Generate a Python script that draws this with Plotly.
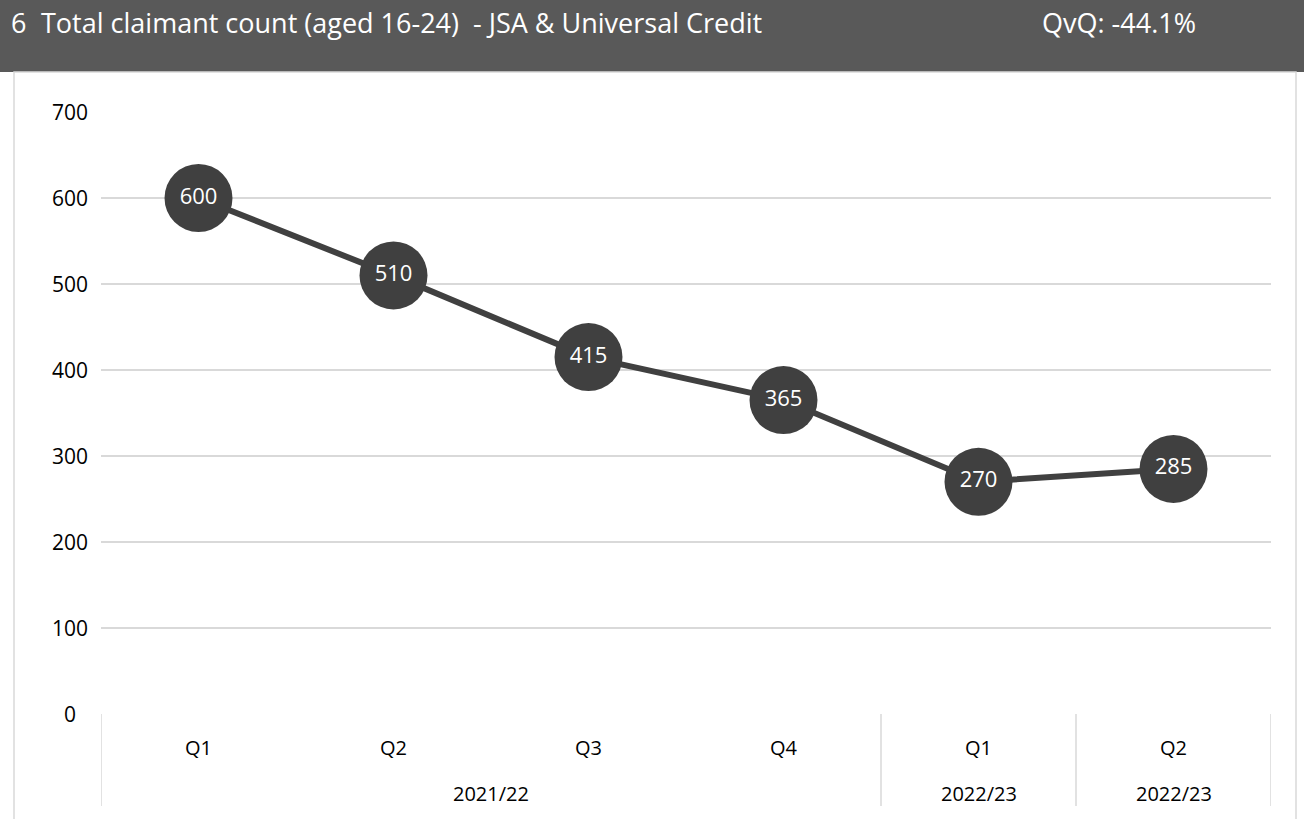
import plotly.graph_objects as go

quarters = ["Q1", "Q2", "Q3", "Q4", "Q1", "Q2"]
years = ["2021/22", "2022/23", "2022/23"]
year_spans = [(0, 3), (4, 4), (5, 5)]
values = [600, 510, 415, 365, 270, 285]
y_ticks = [0, 100, 200, 300, 400, 500, 600, 700]
title_num = "6"
title_text = "Total claimant count (aged 16-24)  - JSA &amp; Universal Credit"
qvq_text = "QvQ: -44.1%"

FONT = "Open Sans"
DARK = "#404040"
GRID = "#d9d9d9"

W, H = 1304, 819
PL, PR, PT, PB = 101, 1271, 112, 714          # plot area in page coords
L, R, T, B = PL, W - PR, PT, H - PB


def px(xp):
    return (xp - PL) / (PR - PL)


def py(yp):
    return (PB - yp) / (PB - PT)


x_idx = list(range(len(quarters)))

fig = go.Figure()
fig.add_trace(go.Scatter(
    x=x_idx, y=values, mode="lines+markers+text",
    line=dict(color=DARK, width=6),
    marker=dict(size=68, color=DARK),
    text=[str(v) for v in values], textposition="middle center",
    textfont=dict(color="white", size=22, family=FONT),
    hoverinfo="skip", showlegend=False, cliponaxis=False,
))

HY1 = 72
shapes = [
    dict(type="rect", xref="paper", yref="paper",
         x0=px(0), x1=px(W), y0=py(HY1), y1=py(0),
         fillcolor="#595959", line=dict(width=0), layer="below"),
    dict(type="rect", xref="paper", yref="paper",
         x0=px(14), x1=px(1296), y0=py(830), y1=py(HY1),
         fillcolor="rgba(0,0,0,0)", line=dict(color=GRID, width=1.5), layer="below"),
]
for xv in [-0.5, 3.5, 4.5, 5.5]:
    shapes.append(dict(type="line", xref="x", yref="paper",
                       x0=xv, x1=xv, y0=0, y1=py(806),
                       line=dict(color=GRID, width=1.5)))

annotations = []
for lbl, (a, b) in zip(years, year_spans):
    annotations.append(dict(x=(a + b) / 2, xref="x", y=py(793), yref="paper",
                            text=lbl, showarrow=False, xanchor="center", yanchor="middle",
                            font=dict(size=20, color="black", family=FONT)))
for v in y_ticks:
    annotations.append(dict(x=px(70), xref="paper", y=v, yref="y",
                            text=str(v), showarrow=False, xanchor="center", yanchor="middle",
                            font=dict(size=21, color="black", family=FONT)))
hy = py(22)
for xpos, txt in [(9, title_num), (39, title_text), (1040, qvq_text)]:
    annotations.append(dict(x=px(xpos), xref="paper", y=hy, yref="paper",
                            text=txt, showarrow=False, xanchor="left", yanchor="middle",
                            font=dict(size=27, color="white", family=FONT)))

fig.update_layout(
    width=W, height=H,
    margin=dict(l=L, r=R, t=T, b=B, pad=0),
    paper_bgcolor="white", plot_bgcolor="white",
    shapes=shapes, annotations=annotations,
    font=dict(family=FONT, color="black"),
    xaxis=dict(range=[-0.5, 5.5], tickvals=x_idx, ticktext=quarters,
               showgrid=False, zeroline=False, showline=False,
               tickfont=dict(size=20), ticks="", ticklabelstandoff=20),
    yaxis=dict(range=[0, 700], tickvals=y_ticks, showgrid=True, gridcolor=GRID, gridwidth=1.5,
               zeroline=False, showline=False, showticklabels=False, ticks=""),
)

fig.write_html("out.html", config={"displayModeBar": False},
               post_script="document.body.style.margin='0';document.body.style.overflow='hidden';")
